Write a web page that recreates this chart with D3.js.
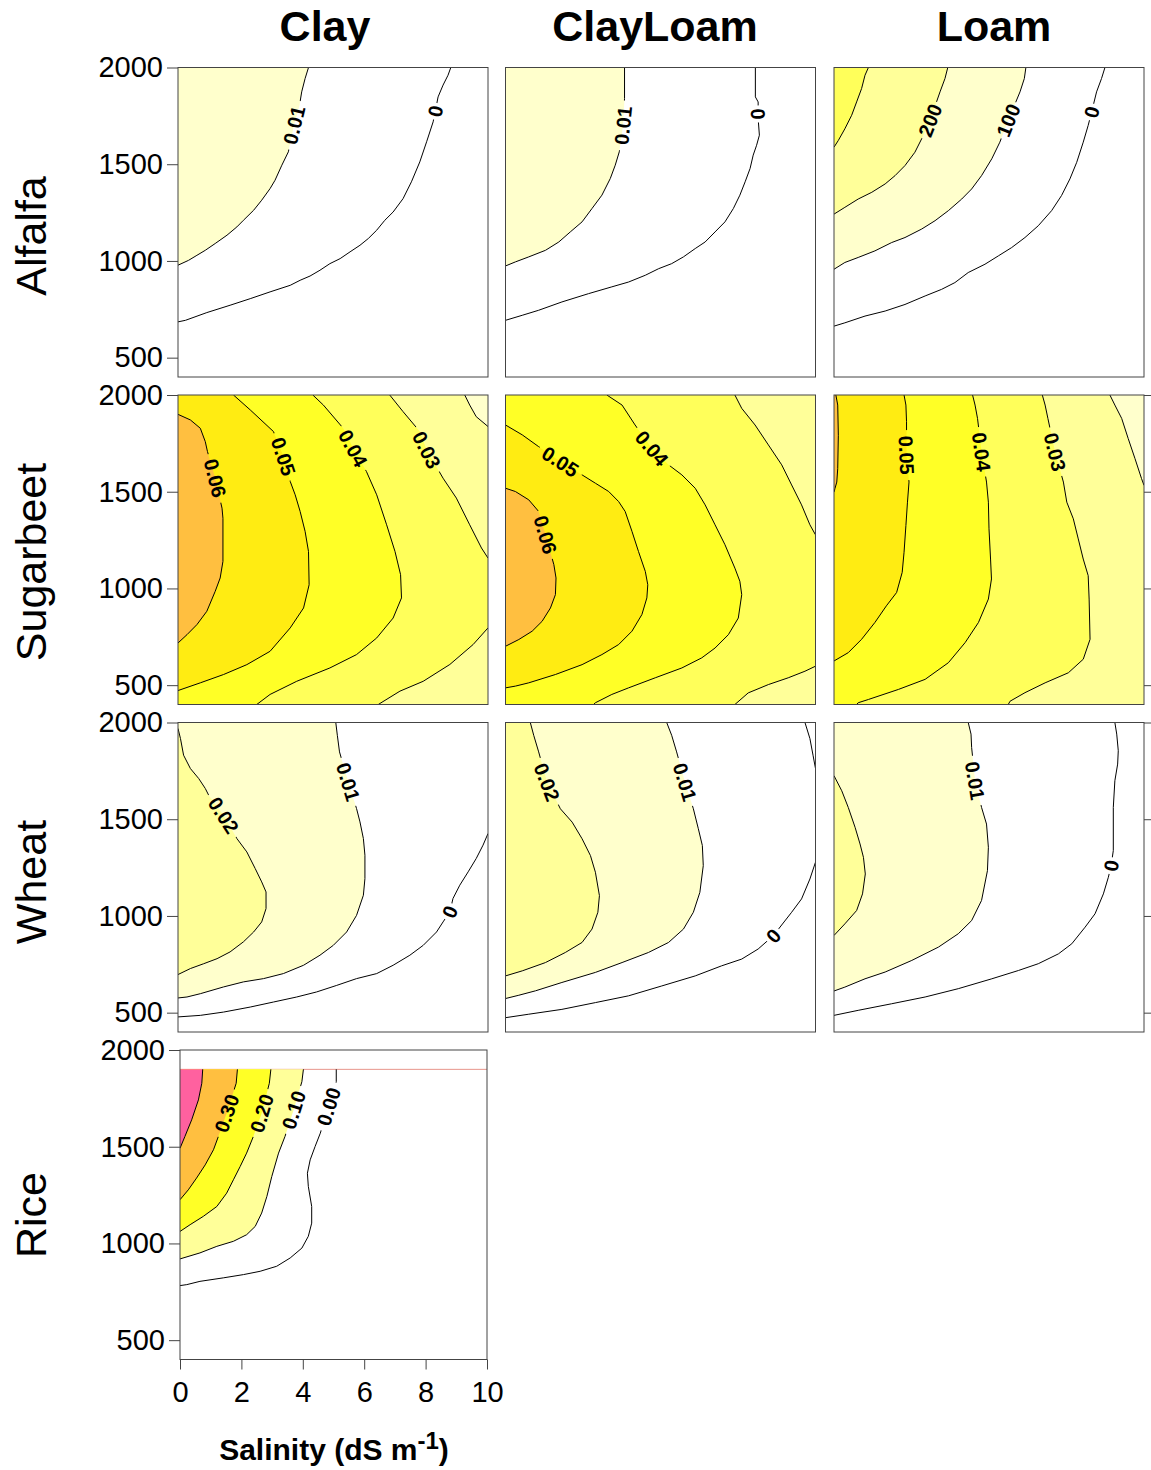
<!DOCTYPE html>
<html><head><meta charset="utf-8">
<script src="https://cdn.jsdelivr.net/npm/d3@7"></script>
<style>body{margin:0;background:#fff} text{font-family:"Liberation Sans",Arial,Helvetica,sans-serif}</style>
</head><body><svg id="chart" width="1151" height="1470"></svg>
<script>
const soils = ["Clay","ClayLoam","Loam"];
const crops = ["Alfalfa","Sugarbeet","Wheat","Rice"];
const yTicks = [500,1000,1500,2000];
const xTicks = [0,2,4,6,8,10];
const xDomain = [0,10], yDomain = [400,2000];
const riceTop = 1900;

const WHITE="#FFFFFF", PALE="#FFFFCC", LIGHT="#FFFF99", MED="#FFFF5A", BRIGHT="#FFFF26", GOLD="#FFEC12", ORANGE="#FFBF40", PINK="#FF619F";

// ---- Alfalfa ----
const alfClay001 = [[4.21,2000],[4.10,1943],[3.99,1874],[3.92,1805],[3.74,1702],[3.56,1564],[3.35,1495],[3.13,1417],[2.97,1374],[2.70,1314],[2.44,1262],[2.11,1210],[1.90,1176],[1.58,1133],[1.20,1090],[0.88,1055],[0.61,1029],[0.34,1003],[0,978]];
const alfClay000 = [[8.80,2000],[8.71,1960],[8.55,1909],[8.39,1848],[8.30,1774],[8.23,1719],[8.02,1616],[7.80,1512],[7.53,1409],[7.26,1322],[6.94,1253],[6.67,1210],[6.41,1159],[6.14,1116],[5.87,1081],[5.55,1047],[5.23,1012],[4.90,986],[4.58,952],[4.26,922],[3.94,900],[3.62,874],[2.97,840],[2.33,805],[1.68,771],[0.93,733],[0.24,693],[0,685]];
const alfCL001 = [[3.84,2000],[3.84,1840],[3.79,1700],[3.67,1564],[3.54,1495],[3.38,1426],[3.11,1340],[2.79,1271],[2.47,1202],[2.09,1150],[1.72,1098],[1.29,1055],[0.75,1021],[0.32,995],[0,974]];
const alfCL000 = [[8.06,2000],[8.06,1848],[8.15,1822],[8.15,1736],[8.19,1650],[8.10,1598],[7.99,1547],[7.89,1478],[7.73,1409],[7.56,1340],[7.35,1271],[7.08,1202],[6.76,1150],[6.44,1098],[6.12,1064],[5.74,1021],[5.36,986],[4.94,960],[4.51,926],[3.97,891],[3.43,866],[2.68,831],[1.82,788],[1.07,745],[0.54,719],[0,693]];
const alfLoam300 = [[1.11,2000],[1.00,1960],[0.89,1891],[0.73,1822],[0.57,1753],[0.35,1683],[0.14,1623],[0,1588]];
const alfLoam200 = [[3.67,2000],[3.58,1943],[3.42,1874],[3.10,1727],[2.83,1632],[2.61,1562],[2.29,1493],[1.97,1441],[1.65,1398],[1.22,1355],[0.78,1320],[0.35,1277],[0,1242]];
const alfLoam100 = [[6.19,2000],[6.14,1943],[6.00,1874],[5.62,1727],[5.35,1614],[5.09,1528],[4.76,1441],[4.44,1372],[4.12,1320],[3.69,1260],[3.26,1208],[2.83,1165],[2.29,1121],[1.86,1095],[1.32,1052],[0.78,1018],[0.35,992],[0,957]];
const alfLoam000 = [[8.74,2000],[8.63,1943],[8.47,1874],[8.31,1770],[8.20,1701],[8.04,1614],[7.83,1510],[7.61,1424],[7.34,1338],[7.02,1260],[6.59,1182],[6.16,1121],[5.73,1069],[5.30,1026],[4.87,983],[4.33,940],[3.90,888],[3.47,853],[2.94,819],[2.29,775],[1.65,741],[1.00,715],[0.35,680],[0,663]];

// ---- Sugarbeet ----
const sbC006 = [[0,1900],[0.40,1871],[0.72,1828],[0.88,1759],[0.95,1708],[1.20,1570],[1.42,1415],[1.45,1363],[1.45,1140],[1.36,1054],[1.20,985],[0.93,882],[0.61,813],[0.29,761],[0,718]];
const sbC005 = [[1.79,2000],[2.33,1923],[3.08,1811],[3.40,1682],[3.62,1553],[3.78,1484],[3.94,1398],[4.10,1295],[4.21,1191],[4.23,1019],[4.05,899],[3.62,796],[2.97,675],[2.22,606],[1.47,555],[0.72,512],[0,472]];
const sbC004 = [[4.35,2000],[4.69,1948],[5.33,1828],[5.65,1725],[6.08,1604],[6.41,1484],[6.73,1329],[7.00,1191],[7.18,1071],[7.21,951],[6.94,847],[6.41,744],[5.76,658],[4.90,589],[3.83,520],[2.97,452],[2.54,400]];
const sbC003a = [[6.83,2000],[7.26,1914],[7.80,1811],[8.02,1716],[8.55,1570],[8.98,1467],[9.41,1329],[9.79,1209],[10,1157]];
const sbC003b = [[10,796],[9.52,710],[8.77,607],[7.91,520],[7.16,469],[6.46,400]];
const sbC002 = [[9.25,2000],[9.41,1948],[9.62,1888],[10,1837]];
const sbCL006 = [[0,1518],[0.32,1501],[0.75,1458],[1.07,1398],[1.29,1277],[1.56,1123],[1.63,1054],[1.61,968],[1.45,899],[1.18,830],[0.86,779],[0.43,736],[0,701]];
const sbCL005 = [[0,1845],[0.54,1794],[1.07,1733],[1.77,1656],[2.47,1587],[2.90,1544],[3.33,1501],[3.65,1449],[3.86,1398],[4.08,1295],[4.29,1191],[4.51,1088],[4.59,1019],[4.56,951],[4.40,865],[4.08,779],[3.65,710],[3.11,658],[2.47,606],[1.61,555],[0.75,512],[0.32,495],[0,486]];
const sbCL004 = [[3.27,2000],[3.76,1948],[4.18,1845],[4.72,1725],[5.26,1639],[5.69,1587],[6.12,1518],[6.44,1432],[6.76,1329],[7.08,1226],[7.40,1105],[7.56,1037],[7.62,968],[7.51,847],[7.19,761],[6.76,692],[6.33,641],[5.69,589],[4.83,538],[3.97,486],[3.43,452],[2.90,409],[2.84,400]];
const sbCL003a = [[7.40,2000],[7.62,1931],[8.05,1845],[8.48,1742],[8.91,1639],[9.23,1535],[9.55,1432],[9.82,1329],[10,1277]];
const sbCL003b = [[10,598],[9.66,572],[9.12,538],[8.48,503],[7.83,460],[7.40,400]];
const sbL006 = [[0.06,2000],[0.12,1948],[0.14,1792],[0.12,1619],[0.09,1550],[0.03,1516],[0,1498]];
const sbL005 = [[2.26,2000],[2.32,1948],[2.34,1862],[2.34,1689],[2.42,1550],[2.37,1446],[2.32,1325],[2.26,1187],[2.20,1083],[2.02,979],[1.69,910],[1.32,824],[0.89,737],[0.46,668],[0,625]];
const sbL004 = [[4.47,2000],[4.55,1948],[4.63,1879],[4.76,1706],[4.92,1550],[4.98,1446],[5.00,1308],[5.05,1152],[5.08,1049],[4.98,945],[4.66,824],[4.23,720],[3.69,616],[2.94,530],[2.08,478],[1.11,426],[0.78,409],[0.73,400]];
const sbL003 = [[6.72,2000],[6.81,1948],[6.90,1879],[7.13,1706],[7.40,1550],[7.51,1446],[7.72,1360],[7.88,1256],[8.04,1152],[8.20,1066],[8.23,945],[8.26,737],[8.04,634],[7.56,564],[6.81,512],[6.16,461],[5.68,417],[5.62,400]];
const sbL002 = [[8.90,2000],[9.06,1948],[9.28,1879],[9.49,1775],[9.71,1671],[9.92,1568],[10,1533]];

// ---- Wheat ----
const wC002 = [[0,1969],[0.08,1917],[0.18,1831],[0.40,1762],[0.67,1710],[0.88,1659],[0.99,1624],[1.47,1521],[1.90,1400],[2.22,1331],[2.49,1245],[2.70,1176],[2.84,1124],[2.84,1038],[2.70,969],[2.44,917],[2.11,866],[1.68,814],[1.26,779],[0.83,753],[0.40,728],[0,697]];
const wC001 = [[5.09,2000],[5.14,1934],[5.21,1848],[5.49,1693],[5.76,1555],[5.87,1486],[5.98,1400],[6.03,1314],[6.03,1193],[5.98,1107],[5.76,1003],[5.44,917],[5.01,848],[4.58,797],[4.05,745],[3.40,702],[2.76,676],[2.11,659],[1.47,633],[0.72,598],[0.29,581],[0,576]];
const wC000 = [[10,1426],[9.84,1366],[9.62,1297],[9.36,1228],[9.09,1159],[8.87,1090],[8.77,1021],[8.55,969],[8.34,917],[7.91,848],[7.48,797],[6.94,745],[6.41,702],[5.76,676],[5.12,641],[4.47,607],[3.83,581],[3.08,555],[2.33,529],[1.47,503],[0.72,486],[0,478]];
const wCL002 = [[0.80,2000],[0.91,1934],[1.07,1848],[1.34,1692],[1.77,1554],[2.15,1485],[2.47,1399],[2.74,1312],[2.90,1226],[3.03,1105],[2.98,1019],[2.79,932],[2.47,863],[1.93,811],[1.29,759],[0.54,716],[0,690]];
const wCL001 = [[5.20,2000],[5.36,1934],[5.52,1848],[5.79,1692],[6.06,1554],[6.22,1451],[6.35,1364],[6.38,1260],[6.27,1122],[6.06,1019],[5.74,932],[5.26,863],[4.61,811],[3.76,759],[2.90,708],[1.82,656],[0.97,613],[0.43,590],[0,573]];
const wCL000a = [[9.66,2000],[9.82,1917],[9.92,1831],[10,1762]];
const wCL000b = [[10,1278],[9.82,1191],[9.55,1088],[9.23,1019],[8.64,898],[8.15,829],[7.62,777],[6.97,742],[6.12,690],[5.04,638],[3.97,587],[2.90,552],[1.82,517],[0.75,492],[0,474]];
const wL002 = [[0,1725],[0.25,1647],[0.46,1561],[0.68,1458],[0.84,1372],[0.95,1303],[1.01,1217],[0.92,1114],[0.73,1028],[0.35,959],[0,899]];
const wL001 = [[4.33,2000],[4.42,1940],[4.44,1871],[4.55,1699],[4.76,1561],[4.92,1475],[4.98,1355],[4.95,1234],[4.76,1080],[4.44,976],[4.01,908],[3.37,839],[2.51,770],[1.65,710],[1.00,675],[0.35,632],[0,612]];
const wL000 = [[9.06,2000],[9.12,1940],[9.17,1854],[9.15,1785],[9.06,1699],[9.01,1561],[9.01,1338],[8.94,1260],[8.85,1200],[8.69,1114],[8.42,1011],[8.10,942],[7.67,856],[7.24,804],[6.59,753],[5.95,718],[5.09,675],[4.01,624],[2.94,581],[1.86,546],[0.78,512],[0,486]];

// ---- Rice ----
const r040 = [[0.74,1900],[0.71,1828],[0.60,1742],[0.38,1639],[0.16,1553],[0,1492]];
const r030 = [[1.87,1900],[1.83,1828],[1.52,1673],[1.25,1553],[1.09,1484],[0.82,1406],[0.54,1338],[0.27,1277],[0,1226]];
const r020 = [[2.96,1900],[2.91,1828],[2.66,1673],[2.39,1553],[2.17,1467],[1.96,1398],[1.74,1329],[1.52,1260],[1.20,1191],[0.76,1140],[0.33,1097],[0,1062]];
const r010 = [[4.02,1900],[3.97,1836],[3.70,1690],[3.42,1553],[3.21,1467],[2.99,1346],[2.83,1243],[2.66,1157],[2.45,1088],[2.17,1045],[1.74,1011],[1.20,985],[0.65,951],[0,920]];
const r000 = [[5.09,1900],[5.09,1836],[4.84,1708],[4.57,1570],[4.40,1501],[4.24,1432],[4.15,1363],[4.18,1295],[4.29,1191],[4.29,1105],[4.18,1037],[3.97,976],[3.59,925],[3.15,882],[2.61,856],[2.07,839],[1.41,822],[0.65,804],[0.22,787],[0,782]];
const riceEdge = [[0,riceTop],[10,riceTop]];

const TL = [[0,2000]], BLTL = [[0,400],[0,2000]], BRBLTL = [[10,400],[0,400],[0,2000]], RTL = [[0,riceTop]];

const panels = [
 {crop:"Alfalfa", soil:"Clay", bg:WHITE,
  fills:[{color:PALE, parts:[alfClay001, TL]}],
  lines:[{pts:alfClay001, label:"0.01", at:[3.74,1702]}, {pts:alfClay000, label:"0", at:[8.30,1774]}]},
 {crop:"Alfalfa", soil:"ClayLoam", bg:WHITE,
  fills:[{color:PALE, parts:[alfCL001, TL]}],
  lines:[{pts:alfCL001, label:"0.01", at:[3.79,1700]}, {pts:alfCL000, label:"0", at:[8.15,1760]}]},
 {crop:"Alfalfa", soil:"Loam", bg:WHITE,
  fills:[{color:PALE, parts:[alfLoam100, TL]}, {color:LIGHT, parts:[alfLoam200, TL]}, {color:MED, parts:[alfLoam300, TL]}],
  lines:[{pts:alfLoam300}, {pts:alfLoam200, label:"200", at:[3.10,1727]}, {pts:alfLoam100, label:"100", at:[5.62,1727]}, {pts:alfLoam000, label:"0", at:[8.31,1770]}]},
 {crop:"Sugarbeet", soil:"Clay", bg:PALE,
  fills:[{color:LIGHT, parts:[sbC002, BRBLTL]}, {color:MED, parts:[sbC003a, sbC003b, BLTL]}, {color:BRIGHT, parts:[sbC004, BLTL]}, {color:GOLD, parts:[sbC005, TL]}, {color:ORANGE, parts:[sbC006]}],
  lines:[{pts:sbC006, label:"0.06", at:[1.20,1570]}, {pts:sbC005, label:"0.05", at:[3.40,1682]}, {pts:sbC004, label:"0.04", at:[5.65,1725]}, {pts:sbC003a, label:"0.03", at:[8.02,1716]}, {pts:sbC003b}, {pts:sbC002}]},
 {crop:"Sugarbeet", soil:"ClayLoam", bg:LIGHT,
  fills:[{color:MED, parts:[sbCL003a, sbCL003b, BLTL]}, {color:BRIGHT, parts:[sbCL004, BLTL]}, {color:GOLD, parts:[sbCL005]}, {color:ORANGE, parts:[sbCL006]}],
  lines:[{pts:sbCL006, label:"0.06", at:[1.29,1277]}, {pts:sbCL005, label:"0.05", at:[1.77,1656]}, {pts:sbCL004, label:"0.04", at:[4.72,1725]}, {pts:sbCL003a}, {pts:sbCL003b}]},
 {crop:"Sugarbeet", soil:"Loam", bg:PALE,
  fills:[{color:LIGHT, parts:[sbL002, BRBLTL]}, {color:MED, parts:[sbL003, BLTL]}, {color:BRIGHT, parts:[sbL004, BLTL]}, {color:GOLD, parts:[sbL005, TL]}, {color:ORANGE, parts:[sbL006, TL]}],
  lines:[{pts:sbL006}, {pts:sbL005, label:"0.05", at:[2.34,1689]}, {pts:sbL004, label:"0.04", at:[4.76,1706]}, {pts:sbL003, label:"0.03", at:[7.13,1706]}, {pts:sbL002}]},
 {crop:"Wheat", soil:"Clay", bg:WHITE,
  fills:[{color:PALE, parts:[wC001, TL]}, {color:LIGHT, parts:[wC002]}],
  lines:[{pts:wC002, label:"0.02", at:[1.47,1521]}, {pts:wC001, label:"0.01", at:[5.49,1693]}, {pts:wC000, label:"0", at:[8.77,1021]}]},
 {crop:"Wheat", soil:"ClayLoam", bg:WHITE,
  fills:[{color:PALE, parts:[wCL001, TL]}, {color:LIGHT, parts:[wCL002, TL]}],
  lines:[{pts:wCL002, label:"0.02", at:[1.34,1692]}, {pts:wCL001, label:"0.01", at:[5.79,1692]}, {pts:wCL000a}, {pts:wCL000b, label:"0", at:[8.64,898]}]},
 {crop:"Wheat", soil:"Loam", bg:WHITE,
  fills:[{color:PALE, parts:[wL001, TL]}, {color:LIGHT, parts:[wL002]}],
  lines:[{pts:wL002}, {pts:wL001, label:"0.01", at:[4.55,1699]}, {pts:wL000, label:"0", at:[8.94,1260]}]},
 {crop:"Rice", soil:"Clay", bg:WHITE, edge:riceEdge,
  fills:[{color:LIGHT, parts:[r010, RTL]}, {color:BRIGHT, parts:[r020, RTL]}, {color:ORANGE, parts:[r030, RTL]}, {color:PINK, parts:[r040, RTL]}],
  lines:[{pts:r040}, {pts:r030, label:"0.30", at:[1.52,1673]}, {pts:r020, label:"0.20", at:[2.66,1673]}, {pts:r010, label:"0.10", at:[3.70,1690]}, {pts:r000, label:"0.00", at:[4.84,1708]}]}
];

// ---------- drawing ----------
const svg = d3.select("#chart");
const defs = svg.append("defs");
const PW = 310, PH = 309.5;
const colX = [178, 505.5, 834], rowY = [67.5, 395, 722.5, 1050];
const FONT = "Liberation Sans, Arial, Helvetica, sans-serif";
const LFS = 20;

function polyPath(parts, x, y) {
  const pts = parts.flat();
  return "M" + pts.map(p => x(p[0]).toFixed(2) + "," + y(p[1]).toFixed(2)).join("L") + "Z";
}

panels.forEach((p, i) => {
  const row = crops.indexOf(p.crop), col = soils.indexOf(p.soil);
  const isRice = p.crop === "Rice";
  const x0 = isRice ? 180 : colX[col], x1 = isRice ? 487 : colX[col] + PW;
  const y0 = rowY[row], y1 = y0 + PH;
  const x = d3.scaleLinear().domain(xDomain).range([x0, x1]);
  const y = d3.scaleLinear().domain(yDomain).range([y1, y0]);
  const line = d3.line().x(d => x(d[0])).y(d => y(d[1]));

  defs.append("clipPath").attr("id", "clip" + i).append("rect")
    .attr("x", x0).attr("y", y0).attr("width", x1 - x0).attr("height", y1 - y0);
  const g = svg.append("g");
  const body = g.append("g").attr("clip-path", `url(#clip${i})`);
  body.append("rect").attr("x", x0).attr("y", y0).attr("width", x1 - x0).attr("height", y1 - y0).attr("fill", p.bg);
  if (p.edge) body.append("path").attr("d", line(p.edge)).attr("stroke", "#E8958C").attr("stroke-width", 1).attr("fill", "none");
  p.fills.forEach(f => body.append("path").attr("d", polyPath(f.parts, x, y)).attr("fill", f.color).attr("stroke", "none"));

  const labs = [];
  p.lines.forEach(l => {
    if (!l.label) return;
    const px = x(l.at[0]), py = y(l.at[1]);
    let best = 0, bd = Infinity;
    l.pts.forEach((q, k) => { const d = (x(q[0]) - px) ** 2 + (y(q[1]) - py) ** 2; if (d < bd) { bd = d; best = k; } });
    const a = l.pts[Math.max(best - 1, 0)], b = l.pts[Math.min(best + 1, l.pts.length - 1)];
    let ang = Math.atan2(y(b[1]) - y(a[1]), x(b[0]) - x(a[0])) * 180 / Math.PI;
    if (ang > 90) ang -= 180;
    if (ang < -90) ang += 180;
    labs.push({px, py, ang, text: l.label});
  });
  const mask = defs.append("mask").attr("id", "mask" + i).attr("maskUnits", "userSpaceOnUse")
    .attr("x", x0 - 5).attr("y", y0 - 5).attr("width", x1 - x0 + 10).attr("height", y1 - y0 + 10);
  mask.append("rect").attr("x", x0 - 5).attr("y", y0 - 5).attr("width", x1 - x0 + 10).attr("height", y1 - y0 + 10).attr("fill", "#fff");
  labs.forEach(L => {
    const w = L.text.length * LFS * 0.55 + 6, h = LFS * 0.9;
    mask.append("rect").attr("x", -w / 2).attr("y", -h / 2).attr("width", w).attr("height", h).attr("fill", "#000")
      .attr("transform", `translate(${L.px},${L.py}) rotate(${L.ang})`);
  });
  const lg = body.append("g").attr("mask", `url(#mask${i})`);
  p.lines.forEach(l => lg.append("path").attr("d", line(l.pts)).attr("fill", "none").attr("stroke", "#000").attr("stroke-width", 1));
  labs.forEach(L => body.append("text").attr("transform", `translate(${L.px},${L.py}) rotate(${L.ang})`)
    .attr("text-anchor", "middle").attr("dy", "0.36em").attr("font-size", LFS).attr("font-weight", "bold")
    .attr("font-family", FONT).attr("fill", "#000").text(L.text));

  g.append("rect").attr("x", x0).attr("y", y0).attr("width", x1 - x0).attr("height", y1 - y0)
    .attr("fill", "none").attr("stroke", "#444").attr("stroke-width", 1);

  if (col === 0) {
    const ax = g.append("g").attr("transform", `translate(${x0},0)`)
      .call(d3.axisLeft(y).tickValues(yTicks).tickFormat(d3.format("d")).tickSize(11).tickPadding(4));
    ax.select(".domain").remove();
    ax.attr("font-size", 29).attr("font-family", FONT);
    ax.selectAll("line").attr("stroke", "#444");
    ax.selectAll("text").attr("fill", "#000");
  }
  if (col === 2 && (row === 1 || row === 2)) {
    const ax = g.append("g").attr("transform", `translate(${x1},0)`)
      .call(d3.axisRight(y).tickValues(yTicks).tickSize(11).tickFormat(""));
    ax.select(".domain").remove();
    ax.selectAll("line").attr("stroke", "#444");
  }
  if (isRice) {
    const ax = g.append("g").attr("transform", `translate(0,${y1})`)
      .call(d3.axisBottom(x).tickValues(xTicks).tickFormat(d3.format("d")).tickSize(10).tickPadding(12));
    ax.select(".domain").remove();
    ax.attr("font-size", 29).attr("font-family", FONT);
    ax.selectAll("line").attr("stroke", "#444");
    ax.selectAll("text").attr("fill", "#000");
  }
});

// column titles
const titleX = [325, 655, 994];
soils.forEach((s, k) => svg.append("text").attr("x", titleX[k]).attr("y", 41).attr("text-anchor", "middle")
  .attr("font-size", 43).attr("font-weight", "bold").attr("font-family", FONT).text(s));
// row labels
const rowLabelY = [236, 562, 882, 1215];
crops.forEach((c, k) => svg.append("text").attr("transform", `translate(46,${rowLabelY[k]}) rotate(-90)`)
  .attr("text-anchor", "middle").attr("font-size", 43).attr("font-family", FONT).text(c));
// x axis title
const xt = svg.append("text").attr("x", 334).attr("y", 1460).attr("text-anchor", "middle")
  .attr("font-size", 30).attr("font-weight", "bold").attr("font-family", FONT);
xt.append("tspan").text("Salinity (dS m");
xt.append("tspan").attr("dy", -11).attr("font-size", 24).text("-1");
xt.append("tspan").attr("dy", 11).text(")");
</script></body></html>
